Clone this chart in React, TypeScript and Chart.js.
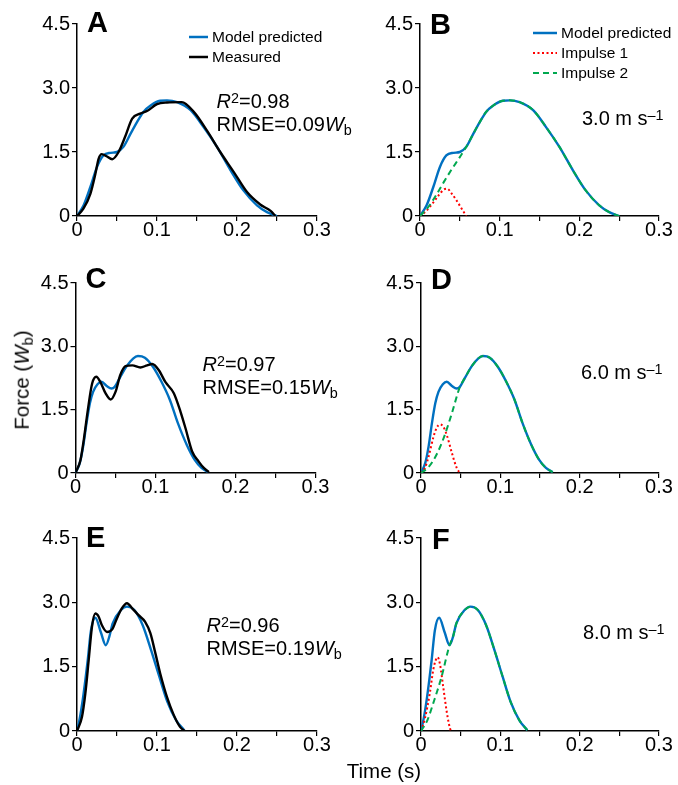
import React, { useEffect, useRef } from 'react';
import { Chart, registerables } from 'chart.js';

Chart.register(...registerables);

const FONT = '"Liberation Sans", Arial, Helvetica, sans-serif';
const BLUE = '#0070c0';
const BLACK = '#000000';
const RED = '#ff0000';
const GREEN = '#00a84f';

const X_TICK_LABELS = ['0', '0.1', '0.2', '0.3'];
const Y_TICK_LABELS = ['0', '1.5', '3.0', '4.5'];

// ---- 3.0 m/s (panels A, B) ----
const V3_MEAS_T = [0, 0.008, 0.0167, 0.023, 0.027, 0.031, 0.037, 0.044, 0.052, 0.06, 0.069, 0.079, 0.0875, 0.1, 0.1125, 0.131, 0.146, 0.1625, 0.179, 0.196, 0.2125, 0.229, 0.242, 0.248];
const V3_MEAS_F = [0, 0.17, 0.52, 0.99, 1.34, 1.45, 1.4, 1.33, 1.5, 1.85, 2.28, 2.4, 2.46, 2.62, 2.66, 2.67, 2.44, 2.0, 1.5, 1.03, 0.56, 0.27, 0.12, 0];
const V3_MODEL_T = [0, 0.0083, 0.0167, 0.025, 0.033, 0.042, 0.05, 0.058, 0.067, 0.075, 0.083, 0.092, 0.104, 0.1125, 0.125, 0.142, 0.158, 0.175, 0.192, 0.208, 0.225, 0.2375, 0.25];
const V3_MODEL_F = [0, 0.25, 0.68, 1.15, 1.42, 1.48, 1.5, 1.62, 1.93, 2.2, 2.44, 2.59, 2.7, 2.71, 2.67, 2.48, 2.09, 1.62, 1.07, 0.6, 0.25, 0.09, 0];
const V3_IMP1_T = [0, 0.008, 0.016, 0.024, 0.03, 0.034, 0.04, 0.046, 0.052, 0.058];
const V3_IMP1_F = [0, 0.12, 0.3, 0.5, 0.62, 0.64, 0.52, 0.36, 0.18, 0];
const V3_IMP2_T = [0, 0.01, 0.02, 0.03, 0.04, 0.05, 0.058, 0.067, 0.075, 0.083, 0.092, 0.104, 0.1125, 0.125, 0.142, 0.158, 0.175, 0.192, 0.208, 0.225, 0.2375, 0.25];
const V3_IMP2_F = [0, 0.2, 0.48, 0.8, 1.1, 1.38, 1.62, 1.93, 2.2, 2.44, 2.59, 2.7, 2.71, 2.67, 2.48, 2.09, 1.62, 1.07, 0.6, 0.25, 0.09, 0];

// ---- 6.0 m/s (panels C, D) ----
const V6_MEAS_T = [0, 0.00625, 0.0104, 0.0154, 0.0208, 0.026, 0.031, 0.0375, 0.044, 0.05, 0.056, 0.0625, 0.071, 0.081, 0.0896, 0.096, 0.104, 0.1125, 0.1229, 0.1313, 0.1375, 0.1458, 0.154, 0.1604, 0.1667];
const V6_MEAS_F = [0, 0.31, 0.79, 1.49, 2.12, 2.28, 2.16, 1.89, 1.74, 1.92, 2.32, 2.53, 2.55, 2.5, 2.55, 2.58, 2.44, 2.15, 1.89, 1.45, 1.06, 0.51, 0.27, 0.12, 0.02];
const V6_MODEL_T = [0, 0.0054, 0.0096, 0.0138, 0.018, 0.022, 0.0275, 0.0325, 0.039, 0.045, 0.049, 0.055, 0.064, 0.072, 0.078, 0.0867, 0.097, 0.1075, 0.118, 0.128, 0.139, 0.149, 0.1575, 0.166];
const V6_MODEL_F = [0, 0.24, 0.63, 1.18, 1.65, 1.92, 2.1, 2.16, 2.06, 2.0, 2.04, 2.24, 2.53, 2.71, 2.77, 2.73, 2.51, 2.16, 1.73, 1.18, 0.67, 0.31, 0.12, 0.02];
const V6_IMP1_T = [0, 0.005, 0.0096, 0.0158, 0.02, 0.024, 0.028, 0.0325, 0.039, 0.045, 0.049];
const V6_IMP1_F = [0, 0.12, 0.39, 0.86, 1.08, 1.15, 1.1, 0.9, 0.47, 0.12, 0];
const V6_IMP2_T = [0, 0.01, 0.02, 0.029, 0.039, 0.049, 0.055, 0.064, 0.072, 0.078, 0.0867, 0.097, 0.1075, 0.118, 0.128, 0.139, 0.149, 0.1575, 0.166];
const V6_IMP2_F = [0, 0.15, 0.45, 0.85, 1.42, 2.04, 2.24, 2.53, 2.71, 2.77, 2.73, 2.51, 2.16, 1.73, 1.18, 0.67, 0.31, 0.12, 0.02];

// ---- 8.0 m/s (panels E, F) ----
const V8_MEAS_T = [0, 0.00625, 0.0104, 0.0146, 0.0187, 0.0229, 0.027, 0.031, 0.0375, 0.044, 0.05, 0.056, 0.0625, 0.069, 0.077, 0.085, 0.0917, 0.098, 0.104, 0.1125, 0.121, 0.129, 0.135];
const V8_MEAS_F = [0, 0.33, 0.87, 1.65, 2.43, 2.74, 2.67, 2.47, 2.31, 2.37, 2.63, 2.86, 2.98, 2.86, 2.7, 2.55, 2.28, 1.81, 1.34, 0.79, 0.37, 0.09, 0];
const V8_MODEL_T = [0, 0.0035, 0.0071, 0.0105, 0.0134, 0.0175, 0.0229, 0.03, 0.036, 0.0404, 0.0446, 0.055, 0.0624, 0.0717, 0.082, 0.0925, 0.103, 0.113, 0.124, 0.134];
const V8_MODEL_F = [0, 0.3, 0.72, 1.2, 1.65, 2.35, 2.64, 2.29, 2.0, 2.2, 2.51, 2.82, 2.9, 2.82, 2.47, 1.89, 1.26, 0.68, 0.25, 0.02];
const V8_IMP1_T = [0, 0.005, 0.0112, 0.0154, 0.0185, 0.0209, 0.024, 0.028, 0.032, 0.035, 0.0375];
const V8_IMP1_F = [0, 0.3, 0.89, 1.42, 1.65, 1.72, 1.55, 1.03, 0.5, 0.18, 0];
const V8_IMP2_T = [0, 0.008, 0.0155, 0.026, 0.036, 0.0404, 0.0446, 0.055, 0.0624, 0.0717, 0.082, 0.0925, 0.103, 0.113, 0.124, 0.134];
const V8_IMP2_F = [0, 0.25, 0.65, 1.27, 2.0, 2.2, 2.51, 2.82, 2.9, 2.82, 2.47, 1.89, 1.26, 0.68, 0.25, 0.02];

type Series = { t: number[]; f: number[]; color: string; width: number; dash: number[]; order: number };

const meas = (t: number[], f: number[]): Series => ({ t, f, color: BLACK, width: 2.4, dash: [], order: 0 });
const model = (t: number[], f: number[], order: number): Series => ({ t, f, color: BLUE, width: 2.4, dash: [], order });
const imp1 = (t: number[], f: number[]): Series => ({ t, f, color: RED, width: 2, dash: [2, 2.5], order: 1 });
const imp2 = (t: number[], f: number[]): Series => ({ t, f, color: GREEN, width: 2, dash: [6, 4], order: 0 });

type PanelDef = {
  cx: number; cy: number; w: number; h: number;
  left: number; right: number; top: number; bottom: number;
  series: Series[];
};

const PANELS: PanelDef[] = [
  { cx: 0, cy: 0, w: 340, h: 255, left: 77, right: 317, top: 24, bottom: 216,
    series: [meas(V3_MEAS_T, V3_MEAS_F), model(V3_MODEL_T, V3_MODEL_F, 1)] },
  { cx: 340, cy: 0, w: 338, h: 255, left: 420, right: 659, top: 24, bottom: 216,
    series: [imp2(V3_IMP2_T, V3_IMP2_F), imp1(V3_IMP1_T, V3_IMP1_F), model(V3_MODEL_T, V3_MODEL_F, 2)] },
  { cx: 0, cy: 258, w: 340, h: 255, left: 75.5, right: 315.5, top: 283, bottom: 473,
    series: [meas(V6_MEAS_T, V6_MEAS_F), model(V6_MODEL_T, V6_MODEL_F, 1)] },
  { cx: 340, cy: 258, w: 338, h: 255, left: 421, right: 659, top: 283, bottom: 473,
    series: [imp2(V6_IMP2_T, V6_IMP2_F), imp1(V6_IMP1_T, V6_IMP1_F), model(V6_MODEL_T, V6_MODEL_F, 2)] },
  { cx: 0, cy: 515, w: 340, h: 250, left: 77, right: 317, top: 538, bottom: 731,
    series: [meas(V8_MEAS_T, V8_MEAS_F), model(V8_MODEL_T, V8_MODEL_F, 1)] },
  { cx: 340, cy: 515, w: 338, h: 250, left: 421, right: 659, top: 538, bottom: 731,
    series: [imp2(V8_IMP2_T, V8_IMP2_F), imp1(V8_IMP1_T, V8_IMP1_F), model(V8_MODEL_T, V8_MODEL_F, 2)] },
];

function Panel({ p }: { p: PanelDef }) {
  const ref = useRef<HTMLCanvasElement>(null);
  useEffect(() => {
    if (!ref.current) return;
    const tickFont = { family: FONT, size: 20 };
    const chart = new Chart(ref.current, {
      type: 'line',
      data: {
        datasets: p.series.map((s) => ({
          data: s.t.map((x, i) => ({ x, y: s.f[i] })),
          borderColor: s.color,
          borderWidth: s.width,
          borderDash: s.dash,
          borderCapStyle: 'butt',
          borderJoinStyle: 'round',
          pointRadius: 0,
          pointHoverRadius: 0,
          fill: false,
          cubicInterpolationMode: 'monotone',
          order: s.order,
        })),
      } as any,
      options: {
        responsive: false,
        animation: false,
        events: [],
        layout: { padding: { left: 0, top: p.top - p.cy, right: p.cx + p.w - p.right, bottom: 0 } },
        plugins: { legend: { display: false }, tooltip: { enabled: false }, title: { display: false } },
        scales: {
          x: {
            type: 'linear',
            min: 0,
            max: 0.3,
            afterFit: (s: any) => { s.height = p.cy + p.h - p.bottom; },
            border: { display: true, color: '#000', width: 1.5 },
            grid: { display: true, drawOnChartArea: false, drawTicks: true, tickLength: 5, color: '#000', lineWidth: 1.2 },
            ticks: {
              stepSize: 0.05,
              autoSkip: false,
              maxRotation: 0,
              padding: -3,
              color: '#000',
              font: tickFont,
              callback: (v: any) => {
                const k = Math.round(Number(v) * 20);
                return k % 2 === 0 ? X_TICK_LABELS[k / 2] : '';
              },
            },
          },
          y: {
            type: 'linear',
            min: 0,
            max: 4.5,
            afterFit: (s: any) => { s.width = p.left - p.cx; },
            border: { display: true, color: '#000', width: 1.5 },
            grid: { display: true, drawOnChartArea: false, drawTicks: true, tickLength: 5, color: '#000', lineWidth: 1.2 },
            ticks: {
              stepSize: 1.5,
              autoSkip: false,
              padding: 2,
              color: '#000',
              font: tickFont,
              callback: (v: any) => Y_TICK_LABELS[Math.round(Number(v) / 1.5)],
            },
          },
        },
      } as any,
    });
    return () => chart.destroy();
  }, []);
  return (
    <canvas
      ref={ref}
      width={p.w}
      height={p.h}
      style={{ position: 'absolute', left: p.cx, top: p.cy, width: p.w, height: p.h }}
    />
  );
}

const Sup = ({ children }: { children: React.ReactNode }) => (
  <span style={{ fontSize: '0.72em', position: 'relative', top: '-0.38em', lineHeight: 0 }}>{children}</span>
);
const Sub = ({ children }: { children: React.ReactNode }) => (
  <span style={{ fontSize: '0.72em', position: 'relative', top: '0.3em', lineHeight: 0 }}>{children}</span>
);

function Txt({ x, base, fs, bold, children }: { x: number; base: number; fs: number; bold?: boolean; children: React.ReactNode }) {
  return (
    <div
      style={{
        position: 'absolute', left: x, top: base - 0.8465 * fs, fontSize: fs, lineHeight: `${fs}px`,
        fontWeight: bold ? 700 : 400, whiteSpace: 'nowrap',
      }}
    >
      {children}
    </div>
  );
}

function LegendLine({ x1, x2, y, color, width, dash }: { x1: number; x2: number; y: number; color: string; width: number; dash?: string }) {
  return (
    <svg style={{ position: 'absolute', left: x1, top: y - 4 }} width={x2 - x1} height={8}>
      <line x1={0} y1={4} x2={x2 - x1} y2={4} stroke={color} strokeWidth={width} strokeDasharray={dash} />
    </svg>
  );
}

const Rsq = ({ x, b1, b2, r2, rmse }: { x: number; b1: number; b2: number; r2: string; rmse: string }) => (
  <>
    <Txt x={x} base={b1} fs={20}><i>R</i><Sup>2</Sup>={r2}</Txt>
    <Txt x={x} base={b2} fs={20}>RMSE={rmse}<i>W</i><Sub>b</Sub></Txt>
  </>
);

const Speed = ({ x, base, v }: { x: number; base: number; v: string }) => (
  <Txt x={x} base={base} fs={20}>{v} m s<Sup>–1</Sup></Txt>
);

export default function App() {
  return (
    <div style={{ position: 'absolute', left: 0, top: 0, width: 678, height: 785, fontFamily: FONT, color: '#000', background: '#fff' }}>
      {PANELS.map((p, i) => <Panel key={i} p={p} />)}

      <Txt x={87} base={33} fs={29} bold>A</Txt>
      <Txt x={430} base={35} fs={29} bold>B</Txt>
      <Txt x={85.5} base={289} fs={29} bold>C</Txt>
      <Txt x={431} base={290} fs={29} bold>D</Txt>
      <Txt x={86} base={548} fs={29} bold>E</Txt>
      <Txt x={432} base={550} fs={29} bold>F</Txt>

      <LegendLine x1={189} x2={208} y={37} color={BLUE} width={2.5} />
      <Txt x={212} base={42.5} fs={15.5}>Model predicted</Txt>
      <LegendLine x1={189} x2={208} y={57} color={BLACK} width={2.5} />
      <Txt x={212} base={62.5} fs={15.5}>Measured</Txt>

      <LegendLine x1={533} x2={557} y={33} color={BLUE} width={2.5} />
      <Txt x={561} base={38.5} fs={15.5}>Model predicted</Txt>
      <LegendLine x1={533} x2={557} y={53} color={RED} width={2} dash="2 2.5" />
      <Txt x={561} base={58.5} fs={15.5}>Impulse 1</Txt>
      <LegendLine x1={533} x2={557} y={73} color={GREEN} width={2} dash="6 4" />
      <Txt x={561} base={78.5} fs={15.5}>Impulse 2</Txt>

      <Rsq x={216.5} b1={108} b2={131} r2="0.98" rmse="0.09" />
      <Rsq x={202.5} b1={371} b2={394} r2="0.97" rmse="0.15" />
      <Rsq x={206.5} b1={632} b2={655} r2="0.96" rmse="0.19" />

      <Speed x={582} base={125} v="3.0" />
      <Speed x={581} base={379} v="6.0" />
      <Speed x={583} base={639} v="8.0" />

      <div
        style={{
          position: 'absolute', left: 22, top: 380, transform: 'translate(-50%, -50%) rotate(-90deg)',
          fontSize: 20.5, lineHeight: '20.5px', whiteSpace: 'nowrap',
        }}
      >
        Force (<i>W</i><Sub>b</Sub>)
      </div>
      <div
        style={{
          position: 'absolute', left: 384, top: 778 - 0.8465 * 20.5, transform: 'translateX(-50%)',
          fontSize: 20.5, lineHeight: '20.5px', whiteSpace: 'nowrap',
        }}
      >
        Time (s)
      </div>
    </div>
  );
}
